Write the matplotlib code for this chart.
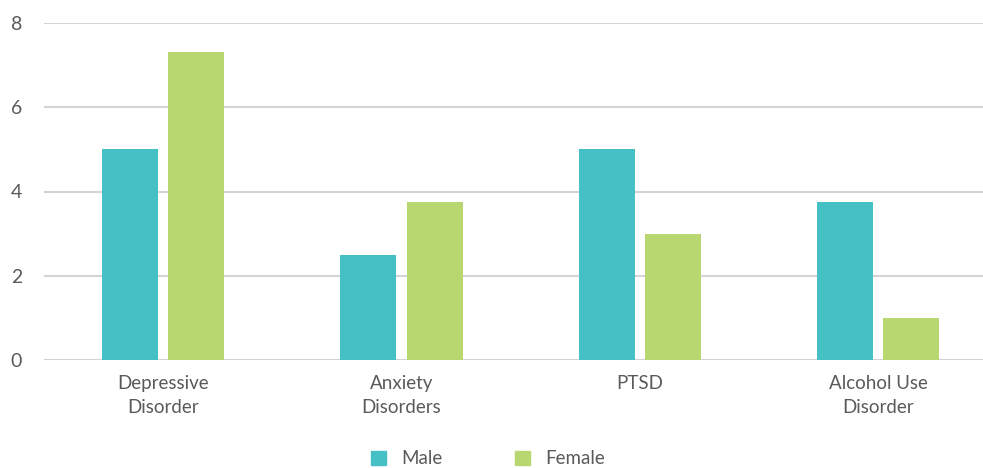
import numpy as np
from matplotlib import pyplot as plt
from matplotlib.patches import Patch

categories = ['Depressive\nDisorder', 'Anxiety\nDisorders', 'PTSD', 'Alcohol Use\nDisorder']
male = [5.0, 2.5, 5.0, 3.75]
female = [7.3, 3.75, 3.0, 1.0]
yticks = [0, 2, 4, 6, 8]

teal = '#45c1c6'
green = '#b8d770'
txt = '#5a5a5a'

plt.rcParams['font.family'] = ['Lato', 'DejaVu Sans']

fig = plt.figure(figsize=(9.83, 4.68), dpi=100)
ax = fig.add_axes([44 / 983, 1 - 360 / 468, 1 - 44 / 983, (360 - 23) / 468])

x = np.arange(len(categories))
w = 0.235
ax.bar(x - 0.139, male, w, color=teal, zorder=3)
ax.bar(x + 0.139, female, w, color=green, zorder=3)

ax.set_xlim(-0.5, 3.44)
ax.set_ylim(0, 8)
ax.set_yticks(yticks)
ax.set_yticklabels([str(t) for t in yticks], fontsize=14, color=txt)
ax.set_xticks(x)
ax.set_xticklabels(categories, fontsize=13.5, color=txt, linespacing=1.45)
ax.tick_params(axis='x', length=0, pad=11)
ax.tick_params(axis='y', length=0, pad=24)
for lab in ax.get_yticklabels():
    lab.set_horizontalalignment('left')

ax.grid(axis='y', color='#d4d4d4', linewidth=1.5, zorder=0)
for s in ax.spines.values():
    s.set_visible(False)

handles = [Patch(color=teal, label='Male'), Patch(color=green, label='Female')]
leg = fig.legend(handles=handles, loc='center', bbox_to_anchor=(488 / 983, 1 - 459 / 468),
                 ncol=2, frameon=False, fontsize=13.5, handlelength=0.8, handleheight=0.8,
                 columnspacing=3.85, handletextpad=0.8)
for t in leg.get_texts():
    t.set_color(txt)

fig.savefig('out.png', dpi=100)
